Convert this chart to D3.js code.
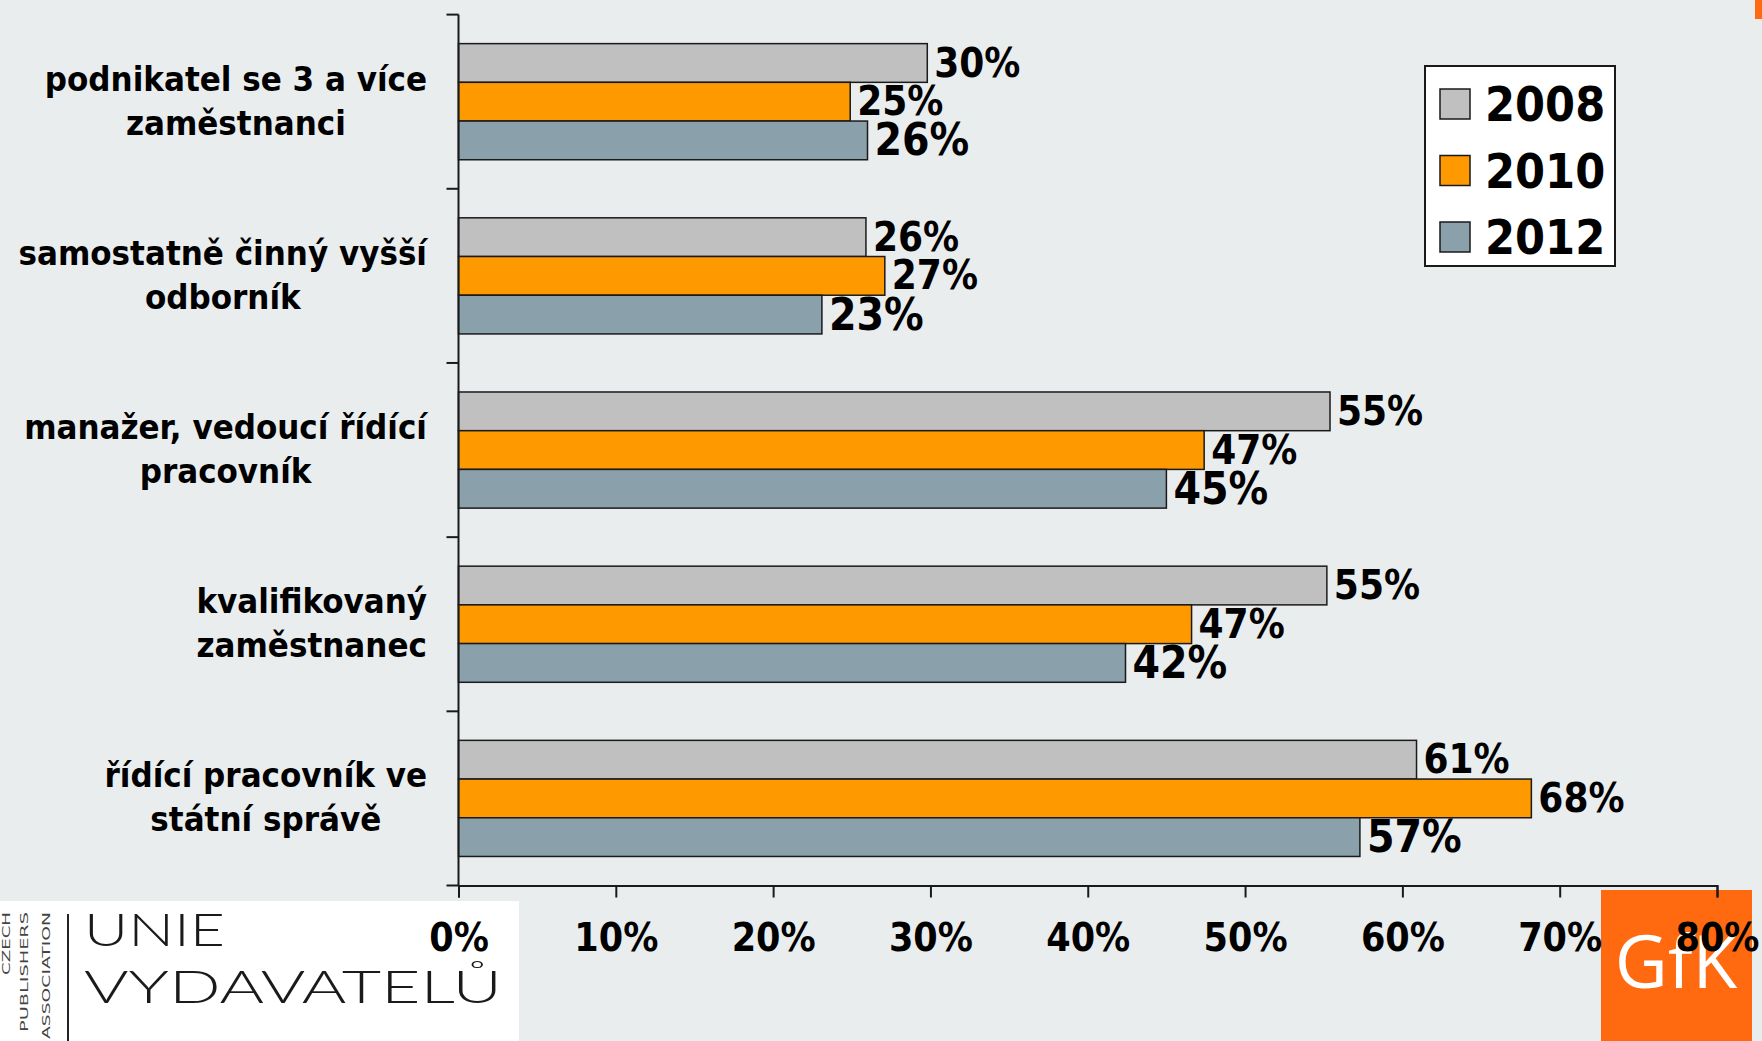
<!DOCTYPE html>
<html>
<head>
<meta charset="utf-8">
<script src="https://cdn.jsdelivr.net/npm/d3@7/dist/d3.min.js"></script>
<style>
  html, body { margin: 0; padding: 0; background: #E9EDEE; }
  svg { display: block; }
  .bold { font-family: "DejaVu Sans Condensed", "DejaVu Sans", sans-serif; font-stretch: condensed; font-weight: bold; }
</style>
</head>
<body>
<svg id="chart" width="1762" height="1041"></svg>
<script>
// ---- data ----
const categories = [
  "podnikatel se 3 a více|zaměstnanci",
  "samostatně činný vyšší|odborník",
  "manažer, vedoucí řídící|pracovník",
  "kvalifikovaný|zaměstnanec",
  "řídící pracovník ve|státní správě"
];
const series = ["2008", "2010", "2012"];
const values2008 = [29.8, 25.9, 55.4, 55.2, 60.9];
const values2010 = [24.9, 27.1, 47.4, 46.6, 68.2];
const values2012 = [26.0, 23.1, 45.0, 42.4, 57.3];
const xTicks = [0, 10, 20, 30, 40, 50, 60, 70, 80];
const colors = ["#C0C0C0", "#FF9900", "#8AA0AA"];

const seriesValues = [values2008, values2010, values2012];

const W = 1762, H = 1041;
const svg = d3.select("#chart");
svg.append("rect").attr("width", W).attr("height", H).attr("fill", "#E9EDEE");

const margin = { left: 458.5, right: 45, top: 14.6, bottom: 155.5 };
const x = d3.scaleLinear().domain([0, 80]).range([margin.left, W - margin.right]);
const y = d3.scaleBand().domain(categories).range([margin.top, H - margin.bottom]).padding(0);
const ySub = d3.scaleBand().domain(series).range([0, y.bandwidth()]).paddingInner(0).paddingOuter(0.75);

// ---- logos (drawn under chart text) ----
const logo = svg.append("g");
logo.append("rect").attr("x", 0).attr("y", 901).attr("width", 519).attr("height", H - 901).attr("fill", "#ffffff");
const smallFont = '"DejaVu Sans", sans-serif';
[["CZECH", 9.5, 63], ["PUBLISHERS", 27.5, 120], ["ASSOCIATION", 50, 127]].forEach(([t, bx, len]) => {
  logo.append("text")
    .attr("transform", `translate(${bx},912) rotate(-90)`)
    .attr("text-anchor", "end")
    .attr("font-family", smallFont)
    .attr("font-size", 11)
    .attr("fill", "#444")
    .attr("textLength", len)
    .attr("lengthAdjust", "spacingAndGlyphs")
    .text(t);
});
logo.append("rect").attr("x", 67).attr("y", 914).attr("width", 2).attr("height", H - 914).attr("fill", "#222");
logo.append("text").attr("x", 84).attr("y", 945.5)
  .attr("font-family", '"Lato","Open Sans",sans-serif').attr("font-weight", 300)
  .attr("font-size", 46).attr("fill", "#1a1a1a")
  .attr("textLength", 141).attr("lengthAdjust", "spacingAndGlyphs")
  .text("UNIE");
logo.append("text").attr("x", 84).attr("y", 1003)
  .attr("font-family", '"Lato","Open Sans",sans-serif').attr("font-weight", 300)
  .attr("font-size", 46).attr("fill", "#1a1a1a")
  .attr("textLength", 418).attr("lengthAdjust", "spacingAndGlyphs")
  .text("VYDAVATELŮ");

// GfK
logo.append("rect").attr("x", 1601).attr("y", 890).attr("width", 151).attr("height", H - 890).attr("fill", "#FF6A10");
logo.append("text").attr("x", 1676).attr("y", 988).attr("text-anchor", "middle")
  .attr("font-family", '"Open Sans","Noto Sans",sans-serif').attr("font-size", 73)
  .attr("fill", "#ffffff").text("GfK");
// top-right orange corner
logo.append("rect").attr("x", 1755).attr("y", 0).attr("width", 7).attr("height", 19).attr("fill", "#FF6A10");

// ---- bars ----
const groups = svg.append("g").selectAll("g").data(categories).join("g")
  .attr("transform", d => `translate(0,${y(d)})`);

groups.each(function (cat, ci) {
  const g = d3.select(this);
  series.forEach((s, si) => {
    const v = seriesValues[si][ci];
    g.append("rect")
      .attr("x", x(0))
      .attr("y", ySub(s))
      .attr("width", x(v) - x(0))
      .attr("height", ySub.bandwidth())
      .attr("fill", colors[si])
      .attr("stroke", "#1a1a1a")
      .attr("stroke-width", 1.5);
  });
  series.forEach((s, si) => {
    const v = seriesValues[si][ci];
    g.append("text")
      .attr("class", "bold")
      .attr("x", x(v) + 7)
      .attr("y", ySub(s) + ySub.bandwidth() / 2)
      .attr("dy", "0.34em")
      .attr("font-size", si === 2 ? 44 : 40)
      .attr("fill", "#000")
      .text(Math.round(v) + "%");
  });
});

// ---- y axis ----
const axisG = svg.append("g");
axisG.append("line")
  .attr("x1", x(0)).attr("x2", x(0))
  .attr("y1", y.range()[0]).attr("y2", y.range()[1])
  .attr("stroke", "#1a1a1a").attr("stroke-width", 2);
const boundaries = categories.map(c => y(c)).concat([y.range()[1]]);
axisG.selectAll("line.tk").data(boundaries).join("line")
  .attr("class", "tk")
  .attr("x1", x(0) - 12).attr("x2", x(0))
  .attr("y1", d => d).attr("y2", d => d)
  .attr("stroke", "#1a1a1a").attr("stroke-width", 2);

// category labels
const labelRight = 427;
categories.forEach(cat => {
  const lines = cat.split("|");
  const cy = y(cat) + y.bandwidth() / 2;
  const t = svg.append("g").attr("class", "bold").attr("font-size", 34.5).attr("fill", "#000");
  const nodes = lines.map((ln, i) => t.append("text")
    .attr("y", cy - 11 + i * 44)
    .attr("text-anchor", "middle")
    .text(ln));
  const maxW = d3.max(nodes, n => n.node().getComputedTextLength());
  nodes.forEach(n => n.attr("x", labelRight - maxW / 2));
});

// ---- x axis ----
const xAxis = d3.axisBottom(x)
  .tickValues(xTicks)
  .tickFormat(d => d + "%")
  .tickSize(12)
  .tickSizeOuter(12)
  .tickPadding(26);
const xg = svg.append("g").attr("transform", `translate(0,${y.range()[1]})`).call(xAxis);
xg.select(".domain").attr("stroke", "#1a1a1a").attr("stroke-width", 2);
xg.selectAll(".tick line").attr("stroke", "#1a1a1a").attr("stroke-width", 2);
xg.selectAll(".tick text").attr("class", "bold").attr("font-size", 39).attr("fill", "#000")
  .style("font-family", '"DejaVu Sans Condensed", "DejaVu Sans", sans-serif').style("font-weight", "bold");

// ---- legend ----
const lg = svg.append("g").attr("transform", "translate(1425,66)");
lg.append("rect").attr("width", 190).attr("height", 200).attr("fill", "#fff")
  .attr("stroke", "#1a1a1a").attr("stroke-width", 2);
series.forEach((s, i) => {
  const cy = 38 + i * 66.5;
  lg.append("rect").attr("x", 15).attr("y", cy - 15).attr("width", 30).attr("height", 30)
    .attr("fill", colors[i]).attr("stroke", "#1a1a1a").attr("stroke-width", 1.5);
  lg.append("text").attr("class", "bold").attr("x", 60).attr("y", cy).attr("dy", "0.36em")
    .attr("font-size", 48).attr("fill", "#000").text(s);
});
</script>
</body>
</html>
